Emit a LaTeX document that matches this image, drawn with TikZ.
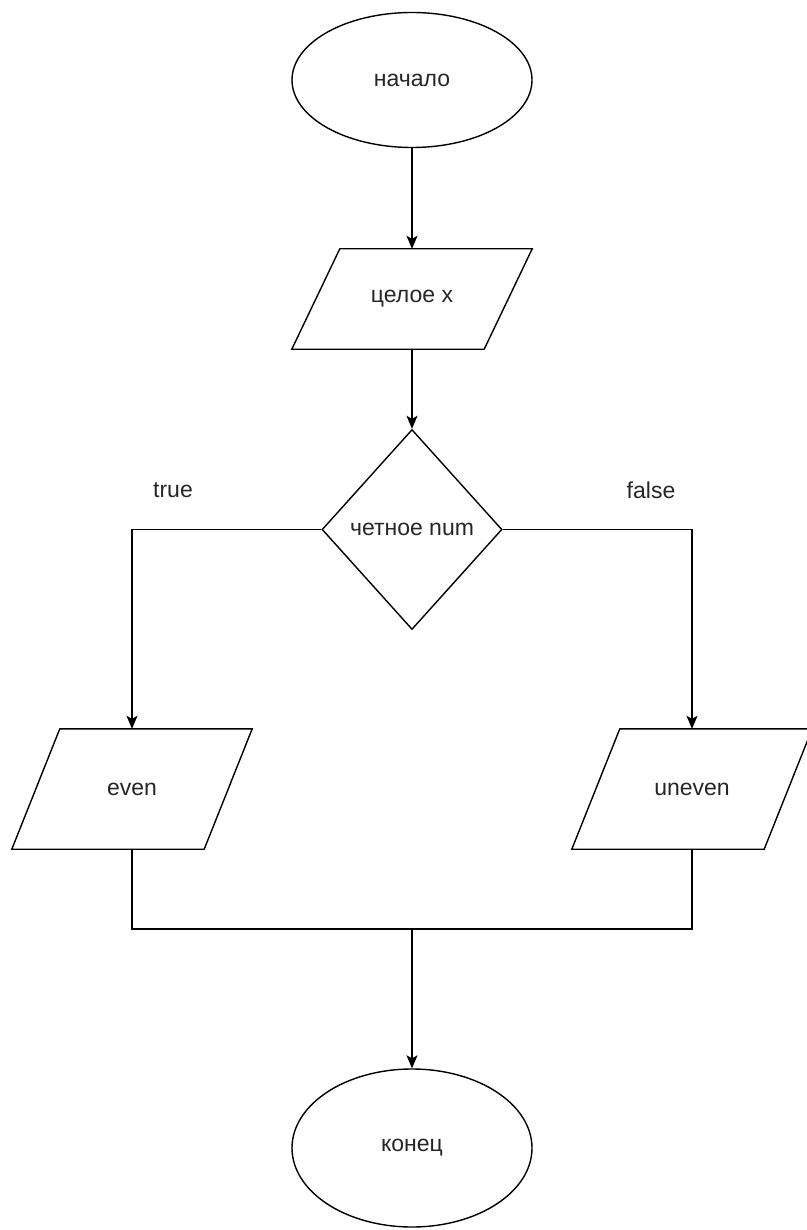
\documentclass[tikz,border=0pt]{standalone}
\usepackage{fontspec}
\setmainfont{Liberation Sans}
\usetikzlibrary{shapes.geometric,arrows.meta}
\tikzset{
  base/.style={inner sep=0pt, font=\fontsize{23}{27}\selectfont, text=black!85},
  term/.style={base, ellipse, draw, line width=1.4pt, minimum width=240pt},
  iobox/.style={base, rectangle, minimum width=192pt},
  decision/.style={base, diamond, draw, line width=1.4pt, minimum width=180pt, minimum height=200pt},
  line/.style={line width=1.4pt},
  arr/.style={line width=1.4pt, -{Stealth[length=13pt,width=11pt,inset=3pt]}},
  lbl/.style={base}
}
\begin{document}
\begin{tikzpicture}[x=1pt,y=-1pt]
\useasboundingbox (0,0) rectangle (806,1230);
\fill[white] (0,0) rectangle (806,1230);

\node[term, minimum height=135pt] (start) at (412,80) {начало};
\node[iobox, minimum height=100pt] (inp) at (412,299) {целое x};
\node[decision] (dec) at (412,529.5) {четное num};
\node[iobox, minimum height=120pt] (even) at (132,789) {even};
\node[iobox, minimum height=120pt] (uneven) at (692,789) {uneven};
\node[term, minimum height=158pt] (end) at (412,1148) {конец};

\node[lbl] (ltrue) at (173,490) {true};
\node[lbl] (lfalse) at (651,490) {false};

% parallelogram outlines
\foreach \n in {inp,even,uneven}{
  \draw[line, line join=miter] ([xshift=24pt]\n.north west) -- ([xshift=24pt]\n.north east)
     -- ([xshift=-24pt]\n.south east) -- ([xshift=-24pt]\n.south west) -- cycle;
}

\coordinate (m) at (412,929);

\draw[arr] (start) -- (inp.north);
\draw[arr] (inp.south) -- (dec.north);
\draw[arr] (dec.west) -| (even.north);
\draw[arr] (dec.east) -| (uneven.north);
\draw[line] (even.south) |- (m) -| (uneven.south);
\draw[arr] (m) -- (end);
\end{tikzpicture}
\end{document}
